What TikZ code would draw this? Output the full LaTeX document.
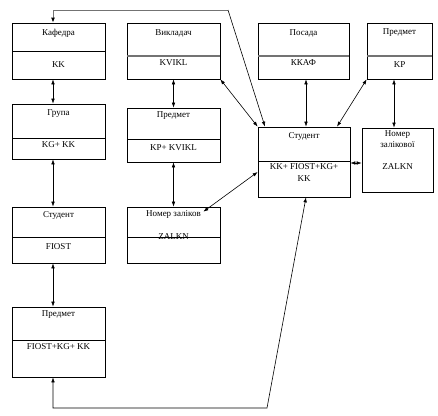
\documentclass[tikz,border=0pt]{standalone}
\usepackage{fontspec}
\setmainfont{Liberation Serif}
\usetikzlibrary{arrows.meta}
\begin{document}
\begin{tikzpicture}[x=1pt,y=-1pt,
  box/.style={draw=black,line width=0.7pt,rectangle,inner sep=0pt,minimum width=93pt},
  lbl/.style={font=\fontsize{9}{10}\selectfont,inner sep=0pt,align=center},
  divb/.style={draw=black,line width=0.6pt},
  divg/.style={draw=black!55,line width=1.1pt},
  conn/.style={draw=black,line width=0.6pt,{Latex[length=5pt,width=3.6pt]}-{Latex[length=5pt,width=3.6pt]}},
  conng/.style={draw=black!55,line width=1pt,-{Latex[length=5pt,width=4pt,black]}},
  connb/.style={draw=black,line width=0.6pt,-{Latex[length=5pt,width=3.6pt]}}]
\useasboundingbox (0,0) rectangle (438,415);
% boxes
\node[box,minimum height=56pt] (kaf) at (58.5,51) {};
\node[box,minimum height=56pt] (vyk) at (173.5,51) {};
\node[box,minimum width=91pt,minimum height=56pt] (pos) at (303.5,51) {};
\node[box,minimum width=65pt,minimum height=56pt] (prtr) at (399.5,51) {};
\node[box,minimum height=55pt] (gr) at (58.5,131.5) {};
\node[box,minimum height=54pt] (pr2) at (173.5,135) {};
\node[box,minimum width=92pt,minimum height=70pt] (stc) at (304,162) {};
\node[box,minimum width=71pt,minimum height=64pt] (nzk) at (397.5,160) {};
\node[box,minimum height=56pt] (stl) at (58.5,235) {};
\node[box,minimum height=56pt] (nz) at (173.5,235) {};
\node[box,minimum height=70pt] (prb) at (58.5,342) {};
% dividers
\draw[divb] (12,51) -- (105,51);
\draw[divg] (127,56) -- (220,56);
\draw[divg] (258,56) -- (349,56);
\draw[divg] (367,56) -- (432,56);
\draw[divb] (12,138) -- (105,138);
\draw[divb] (127,139) -- (220,139);
\draw[divb] (258,161) -- (350,161);
\draw[divb] (12,237) -- (105,237);
\draw[divb] (127,237) -- (220,237);
\draw[divb] (12,340) -- (105,340);
% labels
\node[lbl] (t1) at (58.5,33) {Кафедра};
\node[lbl] (t1b) at (58.5,65) {KK};
\node[lbl] (t2) at (173.5,33) {Викладач};
\node[lbl] (t2b) at (173.5,63) {KVIKL};
\node[lbl] (t3) at (303.5,33) {Посада};
\node[lbl] (t3b) at (303.5,63) {ККАФ};
\node[lbl] (t4) at (399.5,33) {Предмет};
\node[lbl] (t4b) at (399.5,65) {KP};
\node[lbl] (t5) at (58.5,114) {Група};
\node[lbl] (t5b) at (58.5,145) {KG+ KK};
\node[lbl] (t6) at (173.5,116) {Предмет};
\node[lbl] (t6b) at (173.5,148) {KP+ KVIKL};
\node[lbl] (t7) at (304,136) {Студент};
\node[lbl] (t7b) at (304,167) {KK+ FIOST+KG+};
\node[lbl] (t7c) at (304,179) {KK};
\node[lbl] (t8) at (397.5,135) {Номер};
\node[lbl] (t8a) at (397.5,145) {залікової};
\node[lbl] (t8b) at (397.5,167) {ZALKN};
\node[lbl] (t9) at (58.5,215) {Студент};
\node[lbl] (t9b) at (58.5,247) {FIOST};
\node[lbl] (t10) at (173.5,214) {Номер заліков};
\node[lbl] (t10b) at (173.5,237) {ZALKN};
\node[lbl] (t11) at (58.5,315) {Предмет};
\node[lbl] (t11b) at (58.5,347) {FIOST+KG+ KK};
% connectors
\draw[conn] ([xshift=-5.5pt]kaf.south) -- ([xshift=-5.5pt]gr.north);
\draw[conn] ([xshift=-5.5pt]gr.south) -- ([xshift=-5.5pt]stl.north);
\draw[conn] ([xshift=-5.5pt]stl.south) -- ([xshift=-5.5pt]prb.north);
\draw[conn] (vyk.south) -- (pr2.north);
\draw[conn] (pr2.south) -- (nz.north);
\draw[conn] ([xshift=2.5pt]pos.south) -- ([xshift=2pt]stc.north);
\draw[conn] ([xshift=-5.5pt]prtr.south) -- ([xshift=-3.5pt]nzk.north);
\draw[conn] (vyk.south east) -- (stc.north west);
\draw[conn] (prtr.south west) -- ([xshift=33pt]stc.north);
\draw[conn] ([yshift=-1pt]stc.east) -- ([yshift=-1pt]stc.east -| nzk.west);
\draw[conn] ([xshift=-17pt,yshift=-5pt]nz.north east) -- ([yshift=-10pt]stc.west);
% top connector
\coordinate (b1) at (228,10);
\draw[conng] (b1) -| ([xshift=-5.5pt]kaf.north);
\draw[connb] (b1) -- ([xshift=-39pt]stc.north);
% bottom connector
\coordinate (c2) at (267,408);
\draw[conn] ([xshift=-5.5pt]prb.south) |- (c2) -- ([xshift=2pt]stc.south);
\end{tikzpicture}
\end{document}
